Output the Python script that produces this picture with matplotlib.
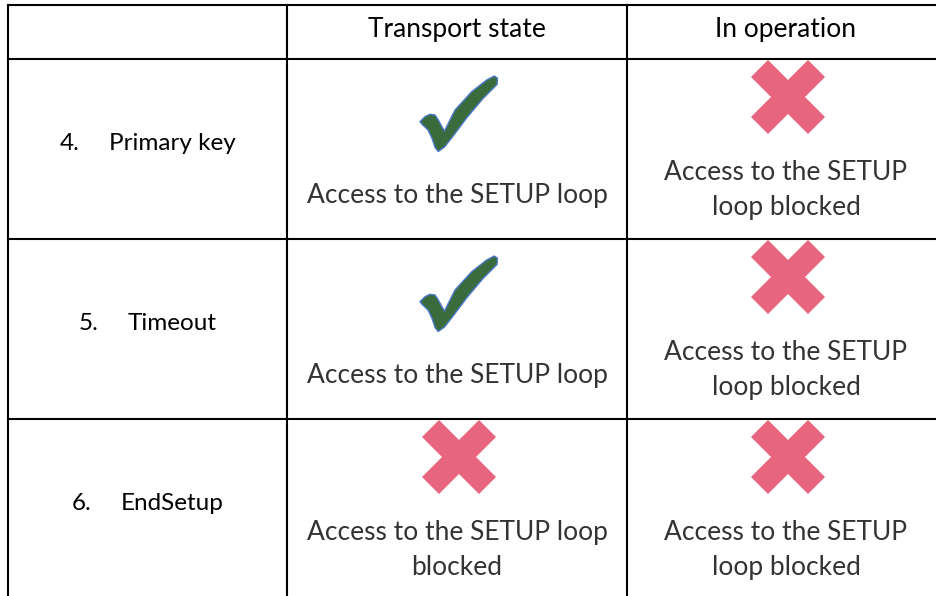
import matplotlib
matplotlib.use("Agg")
import matplotlib.pyplot as plt
from matplotlib.patches import Polygon

# table content
columns = ["Transport state", "In operation"]
row_nums = ["4.", "5.", "6."]
row_names = ["Primary key", "Timeout", "EndSetup"]
allowed = [[True, False],
           [True, False],
           [False, False]]
captions = [["Access to the SETUP loop", "Access to the SETUP\nloop blocked"],
            ["Access to the SETUP loop", "Access to the SETUP\nloop blocked"],
            ["Access to the SETUP loop\nblocked", "Access to the SETUP\nloop blocked"]]

# grid in pixels
xs = [8, 287, 627, 945]
ys = [5, 59, 239, 419, 599]

W, H = 937, 596
fig = plt.figure(figsize=(W / 100, H / 100), dpi=100)
ax = fig.add_axes([0, 0, 1, 1])
ax.set_xlim(0, W)
ax.set_ylim(H, 0)
ax.axis("off")

LW = 1.5
for x in xs:
    ax.plot([x, x], [ys[0], ys[-1]], color="black", lw=LW, solid_capstyle="projecting")
for y in ys:
    ax.plot([xs[0], xs[-1]], [y, y], color="black", lw=LW, solid_capstyle="projecting")

FONT = "Lato"
HEAD_SIZE = 19
LABEL_SIZE = 17.5
BODY_SIZE = 19

# header
for j, c in enumerate(columns):
    cx = (xs[j + 1] + xs[j + 2]) / 2
    ax.text(cx, (ys[0] + ys[1]) / 2 - 3, c, ha="center", va="center",
            family=FONT, fontsize=HEAD_SIZE, color="black")

# check mark outline, pixel offsets from its centre
check_pts = [(-38, 7.7), (-33, 2.7), (-28, 0.3), (-23, 1), (-19.7, 6), (-16.5, 12),
             (-13.5, 17), (-3, -4), (13.7, -22.3), (28.7, -34), (36.3, -38),
             (39.5, -35.7), (39, -29.5), (25, -15.5), (9, 3.5), (-4.5, 21.5),
             (-13.5, 33), (-19.7, 37.5), (-22.8, 33.8), (-26, 24.3),
             (-30, 16), (-35.7, 10.5)]


def cross_pts(h=37, d=17):
    return [(0, -d), (h - d, -h), (h, -(h - d)), (d, 0), (h, h - d), (h - d, h),
            (0, d), (-(h - d), h), (-h, h - d), (-d, 0), (-h, -(h - d)), (-(h - d), -h)]


fig.canvas.draw()
renderer = fig.canvas.get_renderer()
inv = ax.transData.inverted()

for i in range(len(row_names)):
    cy = (ys[i + 1] + ys[i + 2]) / 2
    # row label: number, tab, name
    lx = (xs[0] + xs[1]) / 2
    t_num = ax.text(0, cy - 5, row_nums[i], ha="left", va="center",
                    family=FONT, fontsize=LABEL_SIZE, color="black")
    t_name = ax.text(0, cy - 5, row_names[i], ha="left", va="center",
                     family=FONT, fontsize=LABEL_SIZE, color="black")
    bb = t_name.get_window_extent(renderer)
    name_w = inv.transform((bb.x1, 0))[0] - inv.transform((bb.x0, 0))[0]
    gap = 49
    x0 = lx - (gap + name_w) / 2
    t_num.set_x(x0)
    t_name.set_x(x0 + gap)

    for j in range(len(columns)):
        cx = (xs[j + 1] + xs[j + 2]) / 2
        if allowed[i][j]:
            pts = [(cx + 1 + px, cy - 35 + py) for px, py in check_pts]
            ax.add_patch(Polygon(pts, closed=True, facecolor="#3a6b3d",
                                 edgecolor="#4a78c8", lw=1.0, joinstyle="round"))
            ax.text(cx, cy + 47, captions[i][j], ha="center", va="center",
                    family=FONT, fontsize=BODY_SIZE, color="#333333",
                    linespacing=1.5)
        else:
            pts = [(cx + 2 + px, cy - 52 + py) for px, py in cross_pts()]
            ax.add_patch(Polygon(pts, closed=True, facecolor="#e8657f",
                                 edgecolor="none"))
            ax.text(cx, cy + 41, captions[i][j], ha="center", va="center",
                    family=FONT, fontsize=BODY_SIZE, color="#333333",
                    linespacing=1.5)

fig.savefig("out.png", dpi=100)
